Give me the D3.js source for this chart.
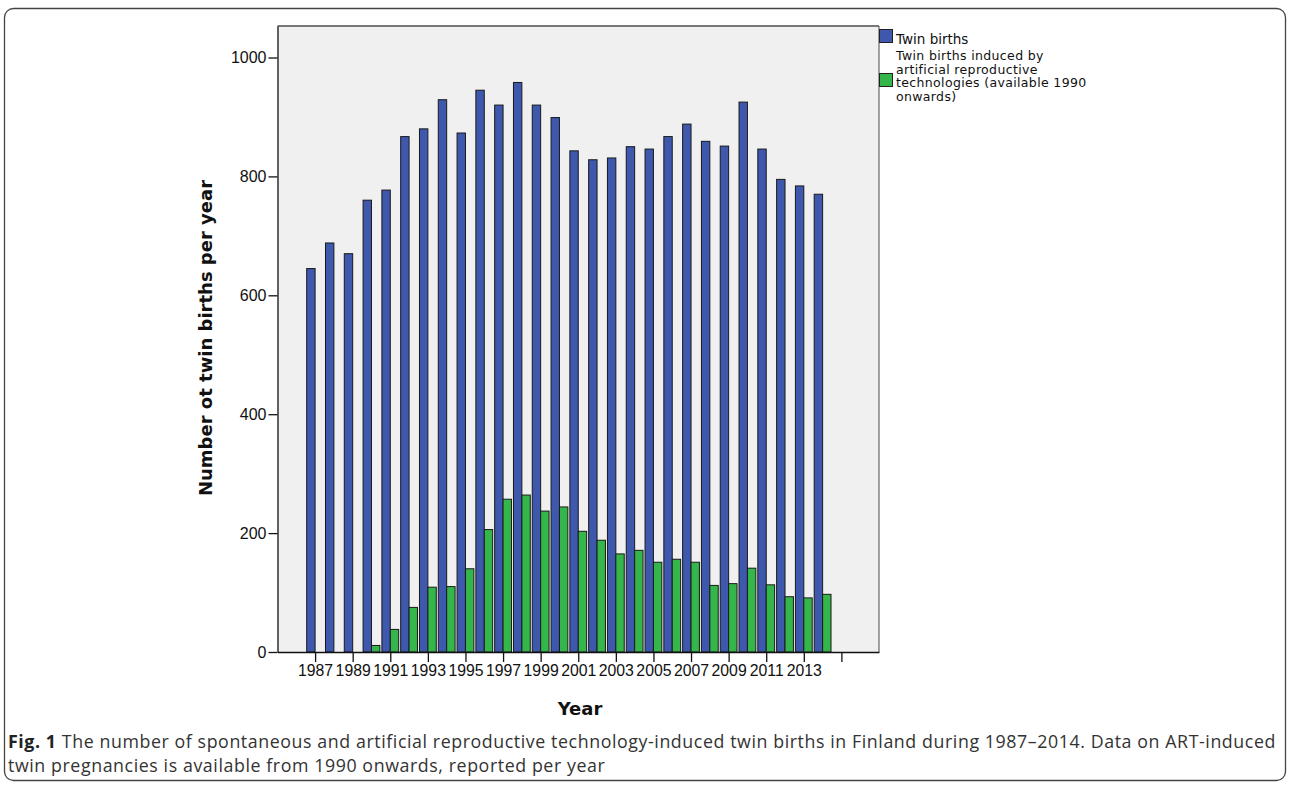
<!DOCTYPE html>
<html><head><meta charset="utf-8">
<script src="https://cdn.jsdelivr.net/npm/d3@7/dist/d3.min.js"></script>
<style>
html,body{margin:0;padding:0;background:#fff;}
svg{display:block;}
</style></head>
<body>
<script>
const years = [1987,1988,1989,1990,1991,1992,1993,1994,1995,1996,1997,1998,1999,2000,2001,2002,2003,2004,2005,2006,2007,2008,2009,2010,2011,2012,2013,2014];
const twinBirths = [645,688,670,760,777,867,880,929,873,945,920,958,920,899,843,828,831,850,846,867,888,859,851,925,846,795,784,770];
const artYears = [1990,1991,1992,1993,1994,1995,1996,1997,1998,1999,2000,2001,2002,2003,2004,2005,2006,2007,2008,2009,2010,2011,2012,2013,2014];
const artTwinBirths = [11,38,75,109,110,140,206,257,264,237,244,203,188,165,171,151,156,151,112,115,141,113,93,91,97];
const yTicks = [0,200,400,600,800,1000];
const xTickYears = [1987,1989,1991,1993,1995,1997,1999,2001,2003,2005,2007,2009,2011,2013,2015];
const xTickLabels = ["1987","1989","1991","1993","1995","1997","1999","2001","2003","2005","2007","2009","2011","2013",""];
const seriesNames = ["Twin births", "Twin births induced by|artificial reproductive|technologies (available 1990|onwards)"];
const colors = ["#3d58ad", "#34b64a"];

(function(){
const W = 1290, H = 789;
const svg = d3.select("body").append("svg").attr("width", W).attr("height", H);

// outer frame
svg.append("rect").attr("x",4.5).attr("y",8.5).attr("width",1281).attr("height",772)
  .attr("rx",9).attr("fill","#fff").attr("stroke","#444").attr("stroke-width",1.3);

const pL = 277.5, pR = 879, pT = 26, pB = 652;
const x = d3.scaleLinear().domain([1985, 2017]).range([pL, pR]);
const y = d3.scaleLinear().domain([0, 1053]).range([pB, pT]);
const bw = 8.4;

// plot background
svg.append("rect").attr("x",pL).attr("y",pT).attr("width",pR-pL).attr("height",pB-pT)
  .attr("fill","#f0f0f0");
svg.append("line").attr("x1",pL).attr("x2",pR).attr("y1",pT).attr("y2",pT)
  .attr("stroke","#777").attr("stroke-width",2);
svg.append("line").attr("x1",pR).attr("x2",pR).attr("y1",pT).attr("y2",pB)
  .attr("stroke","#666").attr("stroke-width",1.2);

// bars
const g = svg.append("g");
g.selectAll("rect.blue").data(years.map((yr,i)=>({yr, v:twinBirths[i]}))).enter().append("rect")
  .attr("class","blue")
  .attr("x", d=>x(d.yr)-bw).attr("y", d=>y(d.v)).attr("width", bw).attr("height", d=>y(0)-y(d.v))
  .attr("fill", colors[0]).attr("stroke","#1a1a1a").attr("stroke-width",1);
g.selectAll("rect.green").data(artYears.map((yr,i)=>({yr, v:artTwinBirths[i]}))).enter().append("rect")
  .attr("class","green")
  .attr("x", d=>x(d.yr)).attr("y", d=>y(d.v)).attr("width", bw).attr("height", d=>y(0)-y(d.v))
  .attr("fill", colors[1]).attr("stroke","#1a1a1a").attr("stroke-width",1);

// axes
const yAxis = d3.axisLeft(y).tickValues(yTicks).tickFormat(d3.format("d")).tickSize(9).tickPadding(2).tickSizeOuter(0);
const ya = svg.append("g").attr("transform",`translate(${pL},0)`).call(yAxis);
ya.select(".domain").attr("stroke","#111").attr("stroke-width",1.3);
ya.selectAll(".tick line").attr("stroke","#111").attr("stroke-width",1.3);
ya.selectAll(".tick text").attr("font-family","'Liberation Sans', Arial, sans-serif").attr("font-size","16px").attr("fill","#111");

const xAxis = d3.axisBottom(x).tickValues(xTickYears).tickFormat((d,i)=>xTickLabels[i]).tickSize(10).tickPadding(3).tickSizeOuter(0);
const xa = svg.append("g").attr("transform",`translate(0,${pB})`).call(xAxis);
xa.select(".domain").attr("stroke","#111").attr("stroke-width",1.3);
xa.selectAll(".tick line").attr("stroke","#111").attr("stroke-width",1.3);
xa.selectAll(".tick text").attr("font-family","'Liberation Sans', Arial, sans-serif").attr("font-size","15.8px").attr("fill","#111");

// axis titles
svg.append("text").attr("transform","translate(212,338) rotate(-90)").attr("text-anchor","middle")
  .attr("font-family","'DejaVu Sans', sans-serif").attr("font-weight","bold").attr("font-size","18px").attr("fill","#111")
  .text("Number ot twin births per year");
svg.append("text").attr("x",580).attr("y",715).attr("text-anchor","middle")
  .attr("font-family","'DejaVu Sans', sans-serif").attr("font-weight","bold").attr("font-size","18px").attr("fill","#111")
  .text("Year");

// legend
const lg = svg.append("g");
lg.append("rect").attr("x",879.5).attr("y",29.5).attr("width",13).attr("height",13).attr("fill",colors[0]).attr("stroke","#222");
lg.append("rect").attr("x",879.5).attr("y",73.5).attr("width",13).attr("height",13).attr("fill",colors[1]).attr("stroke","#222");
lg.append("text").attr("x",896).attr("y",43.5).attr("font-family","'DejaVu Sans', sans-serif").attr("font-size","13.5px").attr("fill","#111")
  .text(seriesNames[0]);
const lt = lg.append("text").attr("font-family","'DejaVu Sans', sans-serif").attr("font-size","12.5px")
  .attr("letter-spacing","0.35px").attr("fill","#111");
seriesNames[1].split("|").forEach((s,i)=>{
  lt.append("tspan").attr("x",896).attr("y",60+i*13.6).text(s);
});

// caption
const capFs = 17.8;
const cap = svg.append("g").attr("font-family","'Open Sans', sans-serif").attr("font-size", capFs + "px").attr("fill","#333");
const c1 = cap.append("text").attr("x",8).attr("y",747.5);
c1.append("tspan").attr("font-weight","bold").attr("fill","#222").text("Fig. 1");
c1.append("tspan").text(" The number of spontaneous and artificial reproductive technology-induced twin births in Finland during 1987–2014. Data on ART-induced");
const c2 = cap.append("text").attr("x",8).attr("y",772).text("twin pregnancies is available from 1990 onwards, reported per year");
const len = c1.node().getComputedTextLength();
const nChars = c1.text().length;
const ls = Math.max(0, (1268 - len) / nChars);
cap.attr("letter-spacing", ls.toFixed(3) + "px");
})();
</script>
</body></html>
